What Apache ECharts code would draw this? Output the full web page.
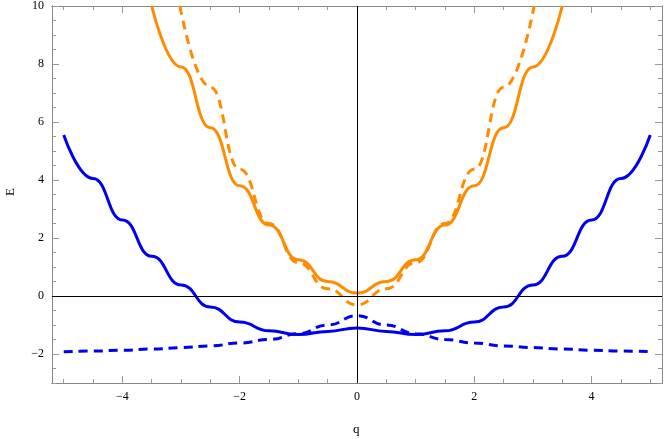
<!DOCTYPE html>
<html>
<head>
<meta charset="utf-8">
<script src="https://cdn.jsdelivr.net/npm/echarts@6/dist/echarts.min.js"></script>
<style>html,body{margin:0;padding:0;background:#fff}#c{width:664px;height:439px}</style>
</head>
<body>
<div id="c"></div>
<script>
// values
var q = [-5, -4.5, -4, -3.5, -3, -2.5, -2, -1.5, -1, -0.5, 0, 0.5, 1, 1.5, 2, 2.5, 3, 3.5, 4, 4.5, 5];
var blueSolid = [5.55, 4.05, 2.62, 1.37, 0.38, -0.38, -0.9, -1.2, -1.33, -1.22, -1.1, -1.22, -1.33, -1.2, -0.9, -0.38, 0.38, 1.37, 2.62, 4.05, 5.55];
var blueDashed = [-1.92, -1.9, -1.87, -1.83, -1.78, -1.72, -1.62, -1.5, -1.3, -1.0, -0.68, -1.0, -1.3, -1.5, -1.62, -1.72, -1.78, -1.83, -1.87, -1.9, -1.92];
var qOrange = [-3.5, -3, -2.5, -2, -1.5, -1, -0.5, 0, 0.5, 1, 1.5, 2, 2.5, 3, 3.5];
var orangeSolid = [10, 7.9, 5.8, 3.8, 2.45, 1.25, 0.5, 0.1, 0.5, 1.25, 2.45, 3.8, 5.8, 7.9, 10];
var qOrangeD = [-3.02, -2.5, -2, -1.5, -1, -0.5, 0, 0.5, 1, 1.5, 2, 2.5, 3.02];
var orangeDashed = [10, 7.2, 4.37, 2.5, 1.15, 0.25, -0.31, 0.25, 1.15, 2.5, 4.37, 7.2, 10];
var xLabels = [-4, -2, 0, 2, 4];
var yLabels = [-2, 0, 2, 4, 6, 8, 10];
var xMinor = [-5, -4.5, -3.5, -3, -2.5, -1.5, -1, -0.5, 0.5, 1, 1.5, 2.5, 3, 3.5, 4.5, 5];
var yMinor = [-3, -2.5, -1.5, -1, -0.5, 0.5, 1, 1.5, 2.5, 3, 3.5, 4.5, 5, 5.5, 6.5, 7, 7.5, 8.5, 9, 9.5];

function pairs(xs, ys) { return xs.map(function (x, i) { return [x, ys[i]]; }); }

var font = 'Liberation Serif';
function fmt(v) { return v < 0 ? '\u2212' + (-v) : '' + v; }
function xAx(pos, vals, len, labels) {
  return {
    type: 'value', min: -5.2, max: 5.2, position: pos,
    axisLine: { show: true, onZero: false, lineStyle: { color: '#888', width: 1 } },
    axisTick: { show: true, inside: true, length: len, customValues: vals, lineStyle: { color: '#999' } },
    axisLabel: { show: labels, customValues: vals, color: '#000', fontFamily: font, fontSize: 12, margin: 8, formatter: fmt },
    splitLine: { show: false }
  };
}
function yAx(pos, vals, len, labels) {
  return {
    type: 'value', min: -3, max: 10, position: pos,
    axisLine: { show: true, onZero: false, lineStyle: { color: '#888', width: 1 } },
    axisTick: { show: true, inside: true, length: len, customValues: vals, lineStyle: { color: '#999' } },
    axisLabel: { show: labels, customValues: vals, color: '#000', fontFamily: font, fontSize: 12, margin: 8, formatter: fmt },
    splitLine: { show: false }
  };
}

var chart = echarts.init(document.getElementById('c'));
var line = function (data, color, dashed) {
  return {
    type: 'line', data: data, smooth: 0.5, smoothMonotone: 'x', showSymbol: false, symbol: 'none',
    xAxisIndex: 0, yAxisIndex: 0, clip: true,
    lineStyle: { color: color, width: 3, type: dashed ? [9, 6] : 'solid' }
  };
};
var s0 = line(pairs(q, blueSolid), '#0000ee', false);
s0.markLine = {
  silent: true, symbol: 'none', label: { show: false },
  lineStyle: { color: '#000', width: 1, type: 'solid' },
  data: [{ xAxis: 0 }, { yAxis: 0 }]
};
chart.setOption({
  animation: false,
  grid: { left: 52, right: 2, top: 5, bottom: 56 },
  xAxis: [
    xAx('bottom', xLabels, 7, true), xAx('bottom', xMinor, 4, false),
    xAx('top', xLabels, 7, false), xAx('top', xMinor, 4, false)
  ],
  yAxis: [
    yAx('left', yLabels, 7, true), yAx('left', yMinor, 4, false),
    yAx('right', yLabels, 7, false), yAx('right', yMinor, 4, false)
  ],
  graphic: [
    { type: 'text', left: 353, top: 423, style: { text: 'q', font: '13px "Liberation Serif"', fill: '#000' } },
    { type: 'text', left: 4, top: 188, rotation: Math.PI / 2, style: { text: 'E', font: '13px "Liberation Serif"', fill: '#000' } }
  ],
  series: [
    s0,
    line(pairs(q, blueDashed), '#0000ee', true),
    line(pairs(qOrange, orangeSolid), '#ff8c00', false),
    line(pairs(qOrangeD, orangeDashed), '#ff8c00', true)
  ]
});
</script>
</body>
</html>
